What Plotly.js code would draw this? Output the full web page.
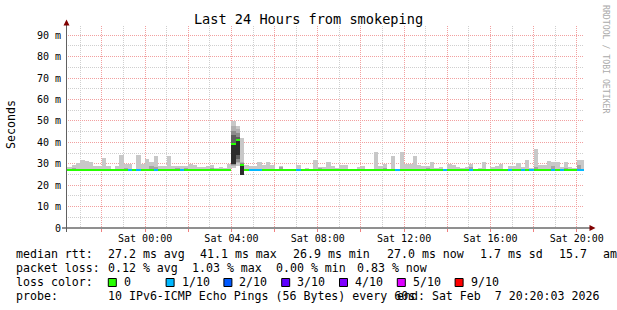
<!DOCTYPE html>
<html><head><meta charset="utf-8">
<script src="https://cdn.plot.ly/plotly-3.0.1.min.js"></script>
<style>html,body{margin:0;padding:0;background:#fff}#chart{width:617px;height:310px}</style>
</head><body><div id="chart"></div>
<script>
// ---- time axis (12-minute consolidation bins, clock aligned) ----
const firstBinStart = '2026-02-06 20:12:00';
const binMinutes = 12;
const rangeStartStr = '2026-02-06 20:20:03';
const rangeEndStr = '2026-02-07 20:20:03';

// ---- data (ms) ----
const smokeMax = [
 33.6,28.7,29.4,30.4,31.9,31.4,31.0,29.1,28.8,32.8,
 28.8,27.6,28.8,34.2,29.9,30.0,27.7,34.2,30.0,32.4,
 31.0,33.8,28.8,29.1,33.8,28.8,29.1,28.8,28.8,29.7,
 29.4,28.6,28.6,28.9,29.4,28.0,28.6,28.0,30.1,49.8,
 47.8,42.0,29.3,28.8,28.8,30.8,29.4,30.8,29.4,27.6,
 28.8,27.4,27.6,27.4,29.4,27.4,28.2,27.4,31.9,28.5,
 28.3,30.7,29.1,28.0,29.6,29.6,27.6,27.4,28.5,28.8,
 27.4,27.4,35.3,28.8,30.0,27.4,33.5,27.4,35.3,30.0,
 30.0,33.8,29.6,29.1,28.8,31.0,28.0,28.5,27.4,29.7,
 29.4,28.6,28.0,28.6,30.0,27.6,28.0,30.8,27.6,28.6,
 28.8,30.0,27.4,28.8,28.8,30.5,28.3,31.9,28.0,37.1,
 29.4,29.4,31.4,30.8,30.8,28.6,30.8,28.5,28.0,31.9,
 31.9];
const smokeMin = [
 26.8,26.8,26.8,26.8,26.8,26.8,26.8,26.8,26.8,26.8,
 26.8,26.8,26.8,26.8,26.8,26.8,26.8,26.8,26.8,26.8,
 26.8,26.8,26.8,26.8,26.8,26.8,26.8,26.8,26.8,26.8,
 26.8,26.8,26.8,26.8,26.8,26.8,26.8,26.8,26.8,28.0,
 29.0,24.8,26.8,26.8,26.8,26.8,26.8,26.8,26.8,26.8,
 26.8,26.8,26.8,26.8,26.8,26.8,26.8,26.8,26.8,26.8,
 26.8,26.8,26.8,26.8,26.8,26.8,26.8,26.8,26.8,26.8,
 26.8,26.8,26.8,26.8,26.8,26.8,26.8,26.8,26.8,26.8,
 26.8,26.8,26.8,26.8,26.8,26.8,26.8,26.8,26.8,26.8,
 26.8,26.8,26.8,26.8,26.8,26.8,26.8,26.8,26.8,26.8,
 26.8,26.8,26.8,26.8,26.8,26.8,26.8,26.8,26.8,26.8,
 26.8,26.8,26.8,26.8,26.8,26.8,26.8,26.8,26.8,26.8,
 26.8];
const medianRtt = [
 27.0,27.0,27.0,27.0,27.0,27.0,27.0,27.0,27.0,27.0,
 27.0,27.0,27.0,27.0,27.0,27.0,27.0,27.0,27.0,27.0,
 27.0,27.0,27.0,27.0,27.0,27.0,27.0,27.0,27.0,27.0,
 27.0,27.0,27.0,27.0,27.0,27.0,27.0,27.0,27.0,39.3,
 41.1,29.5,27.0,27.0,27.0,27.0,27.0,27.0,27.0,27.0,
 27.0,27.0,27.0,27.0,27.0,27.0,27.0,27.0,27.0,27.0,
 27.0,27.0,27.0,27.0,27.0,27.0,27.0,27.0,27.0,27.0,
 27.0,27.0,27.0,27.0,27.0,27.0,27.0,27.0,27.0,27.0,
 27.0,27.0,27.0,27.0,27.0,27.0,27.0,27.0,27.0,27.0,
 27.0,27.0,27.0,27.0,27.0,27.0,27.0,27.0,27.0,27.0,
 27.0,27.0,27.0,27.0,27.0,27.0,27.0,27.0,27.0,27.0,
 27.0,27.0,27.0,27.0,27.0,27.0,27.0,27.0,27.0,27.0,
 27.0];
// loss per bin, in tenths
const lossTenths = [
 0,0,0,0,0,0,0,0,0,0,
 0,0,0,0,0,1,0,1,0,0,
 0,1,0,0,0,0,0,1,0,0,
 0,0,0,0,0,0,0,0,0,0,
 0,0,0,1,1,1,0,0,0,0,
 0,0,0,0,1,0,0,0,0,0,
 0,0,0,0,0,0,0,0,0,0,
 0,0,0,0,0,0,0,1,0,0,
 0,0,0,0,0,0,0,0,1,0,
 0,0,0,0,1,0,0,0,0,0,
 0,0,0,1,0,0,1,0,1,0,
 0,0,0,1,0,1,0,0,0,1,
 1];
// inner (darker) smoke patches
const midBins = [2,14,20,21,26,28,34,50,59,74,84,94,109,113,116,119];
const midTop  = [28.0,28.0,29.1,28.5,28.0,28.0,28.0,28.5,28.0,28.0,28.0,28.6,28.3,28.8,28.2,29.4];
// spike around 04:00: [bottom, top] of each smoke shade
const spikeBins = [39,40,41];
const spikeL2 = [[29.0,47.5],[30.5,46.0],[24.8,31.0]];
const spikeL3 = [[29.5,45.1],[31.0,44.5],[24.8,30.2]];
const spikeL4 = [[29.9,43.3],[32.0,42.5],[24.8,29.8]];
const spikeL5 = [[29.9,39.7],[34.0,41.0],[24.8,29.3]];

// ---- labels ----
const xTickVals = ['2026-02-06 22:00:00','2026-02-07 00:00:00','2026-02-07 02:00:00','2026-02-07 04:00:00',
 '2026-02-07 06:00:00','2026-02-07 08:00:00','2026-02-07 10:00:00','2026-02-07 12:00:00',
 '2026-02-07 14:00:00','2026-02-07 16:00:00','2026-02-07 18:00:00','2026-02-07 20:00:00'];
const xTickText = ['','Sat 00:00','','Sat 04:00','','Sat 08:00','','Sat 12:00','','Sat 16:00','','Sat 20:00'];
const yTickVals = [0,10,20,30,40,50,60,70,80,90];
const yTickText = ['0','10 m','20 m','30 m','40 m','50 m','60 m','70 m','80 m','90 m'];
const lossLabels = ['0','1/10','2/10','3/10','4/10','5/10','9/10'];
const lossLevels = [0,1,2,3,4,5,9];
const lossColors = ['#26ff00','#00b8ff','#0059ff','#5e00ff','#7e00ff','#dd00ff','#ff0000'];
const legendRtt = ['27.2 ms avg','41.1 ms max','26.9 ms min','27.0 ms now','1.7 ms sd','15.7','am'];
const legendLoss = ['0.12 % avg','1.03 % max','0.00 % min','0.83 % now'];
const probeText = '10 IPv6-ICMP Echo Pings (56 Bytes) every 60s';
const endText = 'end: Sat Feb  7 20:20:03 2026';

// ---- build ----
function toStr(ms){const d=new Date(ms);const p=n=>String(n).padStart(2,'0');
 return d.getUTCFullYear()+'-'+p(d.getUTCMonth()+1)+'-'+p(d.getUTCDate())+' '+p(d.getUTCHours())+':'+p(d.getUTCMinutes())+':'+p(d.getUTCSeconds());}
const t0 = Date.parse(firstBinStart.replace(' ','T')+'Z');
const binMs = binMinutes*60000;
const times = smokeMax.map((_,i)=>toStr(t0+i*binMs));

function barTrace(xs, bases, tops, color){
 return {type:'bar', x:xs, base:bases, y:tops.map((t,i)=>t-bases[i]), width:xs.map(()=>binMs), offset:0,
  marker:{color:color, line:{width:0}}, hoverinfo:'skip'};
}
const traces = [];
traces.push(barTrace(times, smokeMin, smokeMax, '#c8c8c8'));
traces.push(barTrace(midBins.map(k=>times[k]), midBins.map(k=>smokeMin[k]), midTop, '#a4a4a4'));
const shades = [[spikeL2,'#b0b0b0'],[spikeL3,'#8c8c8c'],[spikeL4,'#5e5e5e'],[spikeL5,'#2c2c2c']];
shades.forEach(([L,c])=>traces.push(barTrace(spikeBins.map(k=>times[k]), L.map(v=>v[0]), L.map(v=>v[1]), c)));
const medHalf = 0.55;
traces.push({type:'bar', x:times, base:medianRtt.map(m=>m-medHalf), y:medianRtt.map(()=>2*medHalf),
 width:times.map(()=>binMs), offset:0, hoverinfo:'skip',
 marker:{color:lossTenths.map(l=>lossColors[lossLevels.indexOf(l)]), line:{width:0}}});

// ---- layout helpers (pixel -> paper) ----
const L=66, T=26, W=518, H=202;
const pxX = x => (x-L)/W, pxY = y => 1-(y-T)/H;
const mono = 'DejaVu Sans Mono';
const lf = {family:mono, size:11.6, color:'#000'};
const ann = [];
function txt(text,x,y,opts){ann.push(Object.assign({text:text.replace(/ /g,'\u00a0'), x:pxX(x), y:pxY(y), xref:'paper', yref:'paper',
 showarrow:false, xanchor:'left', yanchor:'middle', font:lf, borderpad:0}, opts||{}));}
const rows = [254, 268, 282, 296];
txt('median rtt:',15,rows[0]);
const rttX = [106.5,199,292,386,479,557.5,601.5];
legendRtt.forEach((s,i)=>txt(s,rttX[i],rows[0]));
txt('packet loss:',15,rows[1]);
const lossX = [106.5,191,275,355.5];
legendLoss.forEach((s,i)=>txt(s,lossX[i],rows[1]));
txt('loss color:',15,rows[2]);
const shapes = [];
lossLabels.forEach((s,i)=>{
 const bx = 108.3 + i*57.8;
 shapes.push({type:'rect', xref:'paper', yref:'paper', x0:pxX(bx), x1:pxX(bx+8), y0:pxY(286.5), y1:pxY(278.5),
  fillcolor:lossColors[i], line:{color:'#000', width:1}});
 txt(s, bx+14.5, rows[2]);
});
txt('probe:',15,rows[3]);
txt(probeText,106.5,rows[3]);
txt(endText,600,rows[3],{xanchor:'right'});
// axis title and side credit
txt('Seconds',11,125,{xanchor:'center', textangle:-90, font:{family:mono,size:11.6,color:'#000'}});
txt('RRDTOOL / TOBI OETIKER',606,59,{xanchor:'center', textangle:90, font:{family:mono,size:8.2,color:'#aaaaaa'}});

// axes lines + arrows
shapes.push({type:'line', xref:'paper', yref:'paper', x0:pxX(62), x1:pxX(591), y0:pxY(228), y1:pxY(228), line:{color:'#202020', width:1}});
shapes.push({type:'line', xref:'paper', yref:'paper', x0:pxX(66.5), x1:pxX(66.5), y0:pxY(232), y1:pxY(23), line:{color:'#606060', width:1}});
shapes.push({type:'path', xref:'paper', yref:'paper', fillcolor:'#800000', line:{width:0},
 path:'M '+pxX(63.5)+' '+pxY(25.5)+' L '+pxX(69.5)+' '+pxY(25.5)+' L '+pxX(66.5)+' '+pxY(19.5)+' Z'});
shapes.push({type:'path', xref:'paper', yref:'paper', fillcolor:'#800000', line:{width:0},
 path:'M '+pxX(589.5)+' '+pxY(225)+' L '+pxX(589.5)+' '+pxY(231)+' L '+pxX(595.5)+' '+pxY(228)+' Z'});

const majorGrid = '#f2a0a0', minorGrid = '#cfcfcf';
const layout = {
 width:617, height:310, margin:{l:L, r:617-L-W, t:T, b:310-T-H},
 paper_bgcolor:'#ffffff', plot_bgcolor:'#ffffff', showlegend:false, barmode:'overlay', bargap:0,
 title:{text:'Last 24 Hours from smokeping', font:{family:mono, size:13.6, color:'#000'},
  x:0.5, xref:'container', xanchor:'center', y:1-19/310, yref:'container', yanchor:'middle'},
 xaxis:{type:'date', range:[rangeStartStr, rangeEndStr], tickmode:'array', tickvals:xTickVals, ticktext:xTickText,
  showgrid:true, gridcolor:majorGrid, griddash:'1px,1px', gridwidth:1,
  minor:{tickmode:'linear', tick0:'2026-02-07 00:00:00', dtick:3600000, showgrid:true, gridcolor:minorGrid, griddash:'1px,1px', gridwidth:1},
  zeroline:false, showline:false, ticks:'outside', ticklen:3, tickcolor:'#f08080', tickwidth:1, ticklabelstandoff:-2,
  tickfont:{family:mono, size:10, color:'#000'}, fixedrange:true},
 yaxis:{range:[0,94.3], tickmode:'array', tickvals:yTickVals, ticktext:yTickText,
  showgrid:true, gridcolor:majorGrid, griddash:'1px,1px', gridwidth:1,
  minor:{tickmode:'linear', tick0:0, dtick:5, showgrid:true, gridcolor:minorGrid, griddash:'1px,1px', gridwidth:1},
  zeroline:false, showline:false, ticks:'', ticklabelstandoff:4,
  tickfont:{family:mono, size:10, color:'#000'}, fixedrange:true},
 shapes:shapes, annotations:ann
};
Plotly.newPlot('chart', traces, layout, {displayModeBar:false, staticPlot:true});
</script></body></html>
